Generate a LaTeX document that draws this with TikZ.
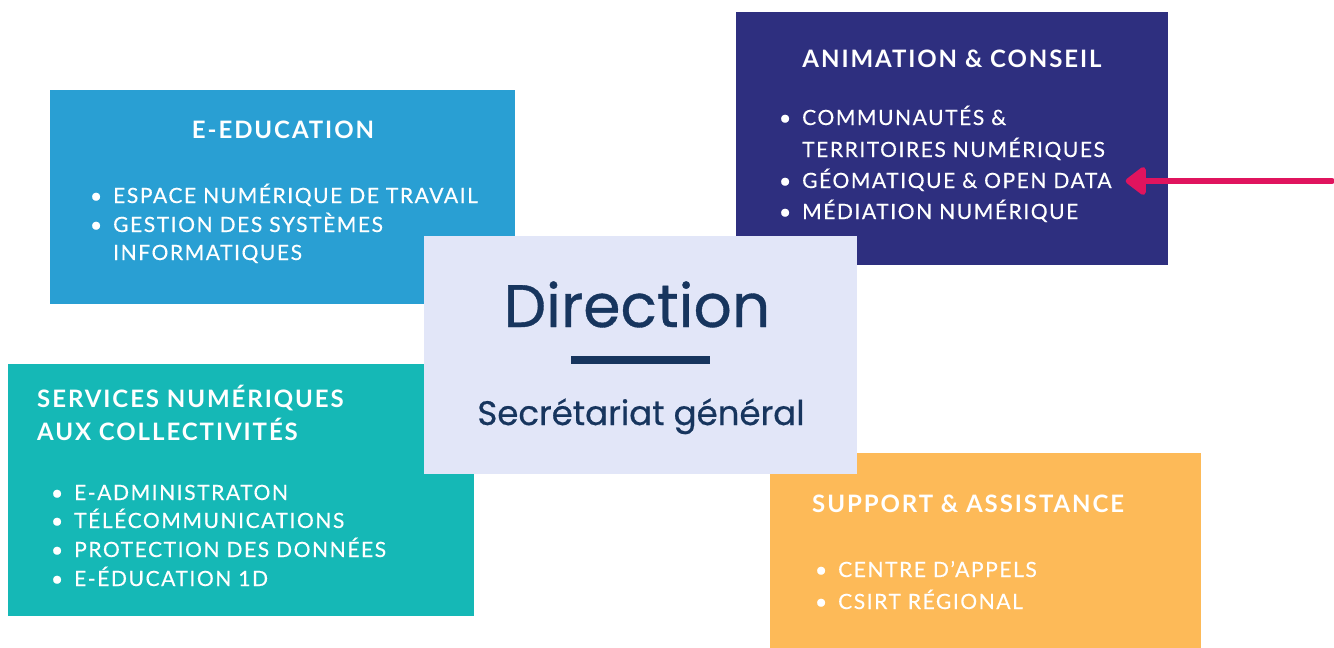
\documentclass[tikz,border=0pt]{standalone}
\usepackage{fontspec}
\usetikzlibrary{arrows.meta}

\newfontfamily\boxfont[LetterSpace=8]{Lato}
\newfontfamily\itemfont[LetterSpace=7.5, FakeBold=0.4]{Lato}
\newfontfamily\dirfont[FakeBold=0.6]{Poppins}

\definecolor{eduBlue}{HTML}{299FD3}
\definecolor{animNavy}{HTML}{2E2F7F}
\definecolor{servTeal}{HTML}{15B8B6}
\definecolor{suppOrange}{HTML}{FDBA58}
\definecolor{dirLav}{HTML}{E2E6F8}
\definecolor{dirInk}{HTML}{17355E}
\definecolor{arrowPink}{HTML}{E0145E}

\newcommand{\itembul}{\llap{\textbullet\hspace{11pt}}}

\tikzset{
  panel/.style={anchor=north west, inner sep=0pt, draw=none},
  boxtitle/.style={text=white, inner sep=0pt, font=\boxfont\bfseries\fontsize{24}{28}\selectfont},
  boxitem/.style={text=white, inner sep=0pt, anchor=base west, font=\itemfont\fontsize{21}{26}\selectfont},
}

\begin{document}
\begin{tikzpicture}[x=1pt, y=-1pt]
    \useasboundingbox (0,0) rectangle (1334,648);

    % Draw the four service boxes
    \node[panel, fill=eduBlue, minimum width=465pt, minimum height=214pt] (edu) at (50,90) {};
    \node[panel, fill=animNavy, minimum width=432pt, minimum height=253pt] (anim) at (736,12) {};
    \node[panel, fill=servTeal, minimum width=466pt, minimum height=252pt] (serv) at (8,364) {};
    \node[panel, fill=suppOrange, minimum width=431pt, minimum height=195pt] (supp) at (770,453) {};

    % E-Education
    \node[boxtitle, anchor=base] (eduT) at (283,138) {E-EDUCATION};
    \node[boxitem] (edu1) at (113,203) {\itembul ESPACE NUMÉRIQUE DE TRAVAIL};
    \node[boxitem] (edu2) at (113,232) {\itembul GESTION DES SYSTÈMES};
    \node[boxitem] (edu3) at (113,260) {INFORMATIQUES};

    % Animation & Conseil
    \node[boxtitle, anchor=base] (animT) at (952,67) {ANIMATION \& CONSEIL};
    \node[boxitem] (anim1) at (802,125) {\itembul COMMUNAUTÉS \&};
    \node[boxitem] (anim2) at (802,157) {TERRITOIRES NUMÉRIQUES};
    \node[boxitem] (geo) at (802,188) {\itembul GÉOMATIQUE \& OPEN DATA};
    \node[boxitem] (anim4) at (802,219) {\itembul MÉDIATION NUMÉRIQUE};

    % Services numeriques
    \node[boxtitle, anchor=base west] (servT1) at (37,407) {SERVICES NUMÉRIQUES};
    \node[boxtitle, anchor=base west] (servT2) at (37,440) {AUX COLLECTIVITÉS};
    \node[boxitem] (serv1) at (74,500) {\itembul E-ADMINISTRATON};
    \node[boxitem] (serv2) at (74,528) {\itembul TÉLÉCOMMUNICATIONS};
    \node[boxitem] (serv3) at (74,557) {\itembul PROTECTION DES DONNÉES};
    \node[boxitem] (serv4) at (74,586) {\itembul E-ÉDUCATION 1D};

    % Support & Assistance
    \node[boxtitle, anchor=base west] (suppT) at (812,512) {SUPPORT \& ASSISTANCE};
    \node[boxitem] (supp1) at (838,577) {\itembul CENTRE D’APPELS};
    \node[boxitem] (supp2) at (838,609) {\itembul CSIRT RÉGIONAL};

    % Direction box on top
    \node[panel, fill=dirLav, minimum width=433pt, minimum height=238pt] (dir) at (424,236) {};
    \node[text=dirInk, anchor=base, inner sep=0pt, font=\dirfont\fontsize{60}{70}\selectfont] (dirT) at (637,327) {Direction};
    \draw[dirInk, line width=8pt] (571,360) -- (710,360);
    \node[text=dirInk, anchor=base, inner sep=0pt, font=\dirfont\fontsize{34}{40}\selectfont] (sec) at (641,425) {Secrétariat général};

    % Draw pointer arrow
    \coordinate (tail) at (1332,181);
    \draw[arrowPink, line width=6pt, line cap=round, -{Triangle[length=22pt, width=32pt, round]}] (tail) -- ([xshift=14pt]geo.east |- tail);
\end{tikzpicture}
\end{document}
